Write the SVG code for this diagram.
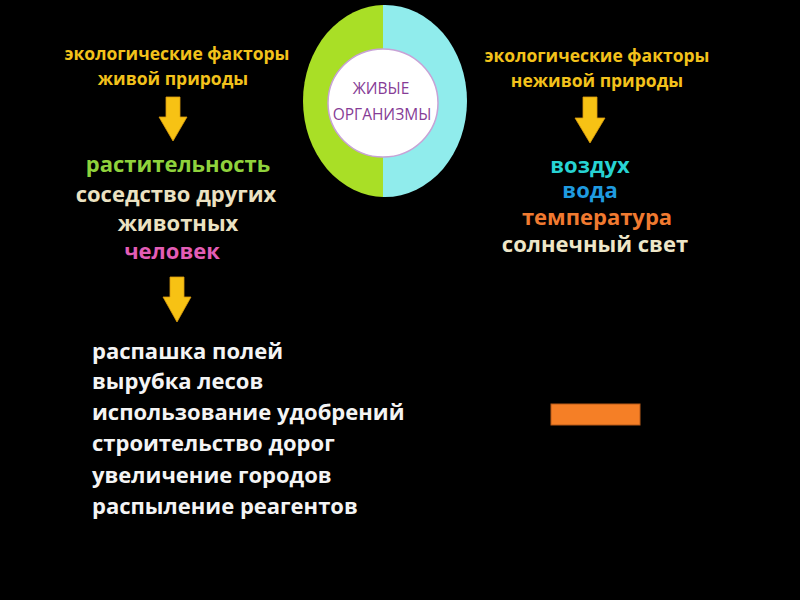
<svg xmlns="http://www.w3.org/2000/svg" width="800" height="600" viewBox="0 0 800 600">
<defs>
<style>
text{font-family:"Open Sans","Noto Sans","Liberation Sans",sans-serif;font-weight:bold;}
.hdr{font-size:17.5px;fill:#f3c21b;text-anchor:middle;}
.big{font-size:22px;text-anchor:middle;}
.lst{font-size:22px;fill:#f4f4f4;}
.arr{fill:#f7c214;stroke:#d99a0c;stroke-width:0.8;}
.org{font-size:15.5px;font-weight:normal;fill:#863c96;text-anchor:middle;}
</style>
<clipPath id="leftHalf"><rect x="0" y="0" width="383" height="600"/></clipPath>
<clipPath id="rightHalf"><rect x="383" y="0" width="417" height="600"/></clipPath>
</defs>
<rect x="0" y="0" width="800" height="600" fill="#000"/>

<g id="organisms">
<ellipse cx="385" cy="101" rx="82" ry="96" fill="#a9df26" clip-path="url(#leftHalf)"/>
<ellipse cx="385" cy="101" rx="82" ry="96" fill="#90ecec" clip-path="url(#rightHalf)"/>
<ellipse cx="383" cy="103" rx="55" ry="54" fill="#fff" stroke="#c8a2d6" stroke-width="1.5"/>
<text class="org" x="381" y="94">ЖИВЫЕ</text>
<text class="org" x="382" y="120">ОРГАНИЗМЫ</text>
</g>

<g id="biotic-header">
<text class="hdr" x="177" y="60">экологические факторы</text>
<text class="hdr" x="173" y="85">живой природы</text>
</g>

<g id="abiotic-header">
<text class="hdr" x="597" y="62">экологические факторы</text>
<text class="hdr" x="597" y="87">неживой природы</text>
</g>

<g id="biotic-list">
<text class="big" x="178" y="172" fill="#8fd23c">растительность</text>
<text class="big" x="176" y="202" fill="#ebe2c2">соседство других</text>
<text class="big" x="178" y="231" fill="#ebe2c2">животных</text>
<text class="big" x="172" y="259" fill="#e35db6">человек</text>
</g>

<g id="abiotic-list">
<text class="big" x="590" y="173" fill="#27d3d3">воздух</text>
<text class="big" x="590" y="198" fill="#1f9be0">вода</text>
<text class="big" x="597" y="225" fill="#f07a30">температура</text>
<text class="big" x="595" y="252" fill="#eee6c8">солнечный свет</text>
</g>

<g id="human-impact">
<text class="lst" x="92" y="359">распашка полей</text>
<text class="lst" x="92" y="389">вырубка лесов</text>
<text class="lst" x="92" y="420">использование удобрений</text>
<text class="lst" x="92" y="451">строительство дорог</text>
<text class="lst" x="92" y="483">увеличение городов</text>
<text class="lst" x="92" y="514">распыление реагентов</text>
</g>

<g id="orange-bar">
<rect x="551" y="404" width="89" height="21" fill="#f57f26" stroke="#b85a18" stroke-width="1"/>
</g>

<g id="connectors">
<polygon class="arr" points="166,97 180,97 180,117 187,117 173,141 159,117 166,117"/>
<polygon class="arr" points="583,97 597,97 597,118 605,118 590,143 575,118 583,118"/>
<polygon class="arr" points="170,277 184,277 184,297 191,297 177,322 163,297 170,297"/>
</g>
</svg>
